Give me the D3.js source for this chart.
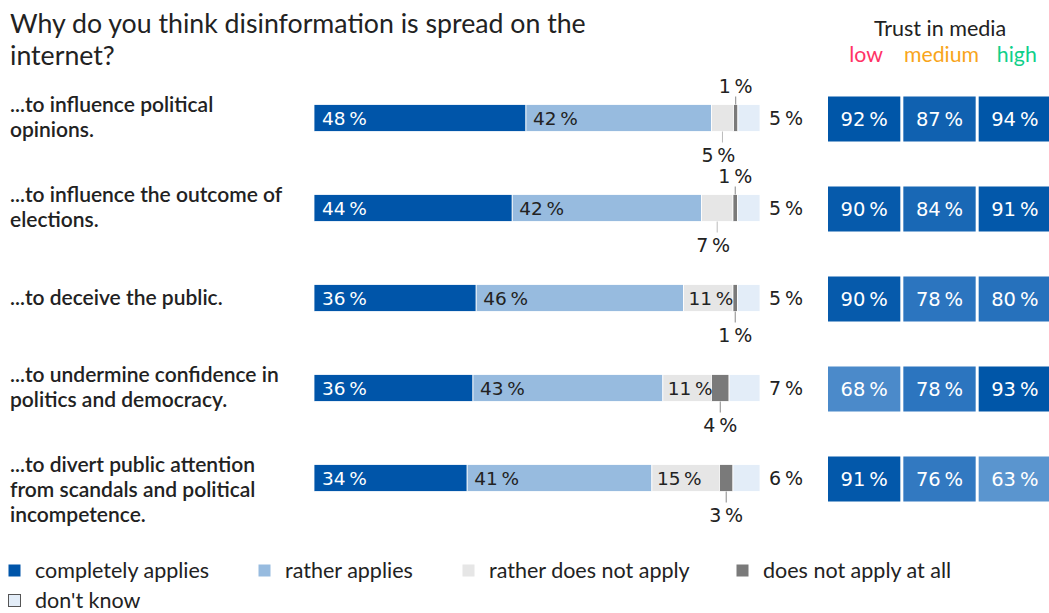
<!DOCTYPE html>
<html>
<head>
<meta charset="utf-8">
<script src="https://cdn.jsdelivr.net/npm/d3@7"></script>
<style>
  body { margin: 0; background: #fff; }
  svg { display: block; }
</style>
</head>
<body>
<svg id="chart"></svg>
<script>
// data
const questions = [
  ["...to influence political", "opinions."],
  ["...to influence the outcome of", "elections."],
  ["...to deceive the public."],
  ["...to undermine confidence in", "politics and democracy."],
  ["...to divert public attention", "from scandals and political", "incompetence."]
];
const completely = [48, 44, 36, 36, 34];
const rather     = [42, 42, 46, 43, 41];
const ratherNot  = [5, 7, 11, 11, 15];
const notAtAll   = [1, 1, 1, 4, 3];
const dontKnow   = [5, 5, 5, 7, 6];

const trustLevels = ["low", "medium", "high"];
const trustLow    = [92, 90, 90, 68, 91];
const trustMedium = [87, 84, 78, 78, 76];
const trustHigh   = [94, 91, 80, 93, 63];

const answerKeys = ["completely", "rather", "ratherNot", "notAtAll", "dontKnow"];
const answerNames = ["completely applies", "rather applies", "rather does not apply", "does not apply at all", "don't know"];
const answerColors = ["#0055a9", "#97bbdf", "#e6e6e6", "#7a7a7a", "#e3edf8"];
const levelColors = ["#ff3366", "#f8a51b", "#10cf8a"];

const width = 1049, height = 613;
const numFont = "'DejaVu Sans', sans-serif";
const textFont = "Lato, sans-serif";
const pct = v => v + "\u2009%";

const svg = d3.select("#chart").attr("width", width).attr("height", height);

const rows = questions.map((q, i) => ({
  idx: i,
  completely: completely[i], rather: rather[i], ratherNot: ratherNot[i],
  notAtAll: notAtAll[i], dontKnow: dontKnow[i]
}));
const series = d3.stack().keys(answerKeys)(rows);

const y = d3.scaleBand().domain(d3.range(questions.length)).range([73, 523]).paddingInner(0.7).paddingOuter(0.35);
const barH = 27;
const cy = i => y(i) + y.bandwidth() / 2;

const color = d3.scaleOrdinal().domain(answerKeys).range(answerColors);

// title
svg.append("text").attr("x", 10).attr("y", 33)
  .attr("font-family", textFont).attr("font-size", 26.7).attr("fill", "#222")
  .selectAll("tspan").data(["Why do you think disinformation is spread on the", "internet?"])
  .join("tspan").attr("x", 10).attr("dy", (d, i) => i ? 32 : 0).text(d => d);

// row labels
const labelG = svg.append("g");
questions.forEach((lines, i) => {
  const base = lines.length === 1 ? cy(i) + 7 : cy(i) - 6;
  labelG.append("text").attr("font-family", textFont).attr("font-size", 21)
    .attr("font-weight", 600).attr("fill", "#222")
    .selectAll("tspan").data(lines).join("tspan")
    .attr("x", 10).attr("y", (d, j) => base + j * 25).text(d => d);
});

// stacked bars, each row spread over the same width
const barG = svg.append("g");
rows.forEach((r, i) => {
  const total = d3.sum(answerKeys, k => r[k]);
  const x = d3.scaleLinear().domain([0, total]).range([314, 760]);
  const top = cy(i) - barH / 2, bottom = cy(i) + barH / 2;
  const segs = series.map(s => ({ key: s.key, v: r[s.key], x0: x(s[i][0]), x1: x(s[i][1]) }));

  barG.selectAll(null).data(segs).join("rect")
    .attr("x", d => d.x0).attr("y", top)
    .attr("width", d => Math.max(0, d.x1 - d.x0)).attr("height", barH)
    .attr("fill", d => color(d.key)).attr("stroke", "#fff").attr("stroke-width", 0.8);

  const s = k => segs.find(d => d.key === k);
  const lab = (xx, yy, txt, fill, anchor, size) => barG.append("text")
    .attr("x", xx).attr("y", yy).attr("text-anchor", anchor || "start")
    .attr("font-family", numFont).attr("font-size", size || 18.5).attr("fill", fill).text(txt);

  lab(s("completely").x0 + 8, cy(i) + 7, pct(r.completely), "#fff");
  lab(s("rather").x0 + 7, cy(i) + 7, pct(r.rather), "#222");

  const rn = s("ratherNot"), na = s("notAtAll");
  const rnInside = r.ratherNot >= 10;
  if (rnInside) {
    lab(rn.x0 + 5, cy(i) + 7, pct(r.ratherNot), "#222");
  } else {
    const mx = (rn.x0 + rn.x1) / 2;
    barG.append("line").attr("x1", mx).attr("x2", mx).attr("y1", bottom).attr("y2", bottom + 11)
      .attr("stroke", "#bbb");
    lab(mx - 4, bottom + 30, pct(r.ratherNot), "#222", "middle", 19);
  }
  const nx = (na.x0 + na.x1) / 2;
  if (rnInside) {
    barG.append("line").attr("x1", nx).attr("x2", nx).attr("y1", bottom).attr("y2", bottom + 11)
      .attr("stroke", "#888");
    lab(nx, bottom + 30, pct(r.notAtAll), "#222", "middle", 19);
  } else {
    barG.append("line").attr("x1", nx).attr("x2", nx).attr("y1", top).attr("y2", top - 8)
      .attr("stroke", "#888");
    lab(nx, top - 12, pct(r.notAtAll), "#222", "middle", 19);
  }
  lab(769, cy(i) + 7, pct(r.dontKnow), "#222", "start", 19);
});

// trust in media boxes
const trust = [trustLow, trustMedium, trustHigh];
const tx = d3.scaleBand().domain(trustLevels).range([828, 1051]).paddingInner(0.04);
const trustColor = d3.scaleLinear().domain([63, 78, 92]).range(["#5a95cf", "#2c75bf", "#0056a8"]).clamp(true);
const boxH = 45;

svg.append("text").attr("x", 940).attr("y", 36).attr("text-anchor", "middle")
  .attr("font-family", textFont).attr("font-size", 21.5).attr("fill", "#222").text("Trust in media");
svg.selectAll(".lvl").data(trustLevels).join("text")
  .attr("x", d => tx(d) + tx.bandwidth() / 2 + 2).attr("y", 62).attr("text-anchor", "middle")
  .attr("font-family", textFont).attr("font-size", 21.3)
  .attr("fill", (d, i) => levelColors[i]).text(d => d);

const cells = [];
trustLevels.forEach((lvl, j) => trust[j].forEach((v, i) => cells.push({ lvl, i, v })));
const cellG = svg.append("g").selectAll("g").data(cells).join("g");
cellG.append("rect")
  .attr("x", d => tx(d.lvl)).attr("y", d => cy(d.i) - boxH / 2 + 1)
  .attr("width", tx.bandwidth()).attr("height", boxH)
  .attr("fill", d => trustColor(d.v));
cellG.append("text")
  .attr("x", d => tx(d.lvl) + tx.bandwidth() / 2).attr("y", d => cy(d.i) + 8)
  .attr("text-anchor", "middle").attr("font-family", numFont).attr("font-size", 19.5)
  .attr("fill", "#fff").text(d => pct(d.v));

// legend
const legX = [8, 258, 462, 736, 8];
const legY = [571, 571, 571, 571, 601];
const leg = svg.append("g").selectAll("g").data(answerNames).join("g")
  .attr("transform", (d, i) => `translate(${legX[i]},${legY[i]})`);
leg.append("rect").attr("x", 0.5).attr("y", -6.5).attr("width", 12).attr("height", 12)
  .attr("fill", (d, i) => answerColors[i])
  .attr("stroke", (d, i) => i === 4 ? "#555" : "none");
leg.append("text").attr("x", 27).attr("y", 7)
  .attr("font-family", textFont).attr("font-size", 21.5).attr("fill", "#222").text(d => d);
</script>
</body>
</html>
